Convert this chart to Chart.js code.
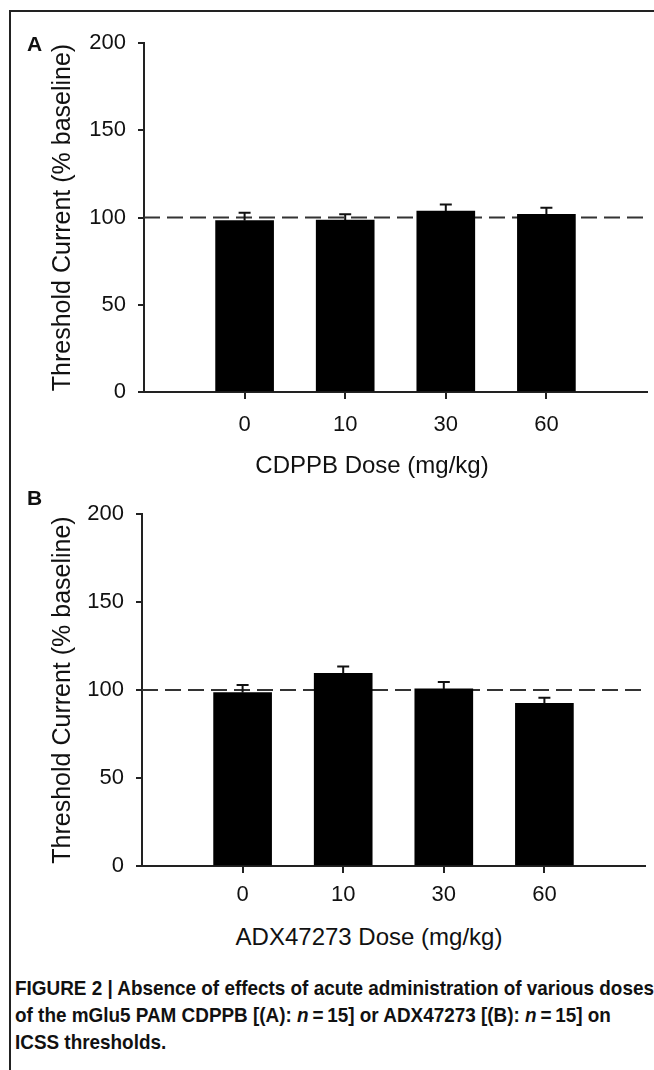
<!DOCTYPE html>
<html><head><meta charset="utf-8">
<script src="https://cdn.jsdelivr.net/npm/chart.js@4.4.0/dist/chart.umd.min.js"></script>
<style>
html,body{margin:0;padding:0;background:#fff;}
body{width:654px;height:1070px;position:relative;overflow:hidden;font-family:'Liberation Sans',Arial,sans-serif;}
#frame{position:absolute;left:9px;top:10px;width:660px;height:1080px;border-top:2px solid #222;border-left:2px solid #222;}
canvas{position:absolute;left:0;}
.lbl{position:absolute;font-weight:bold;font-size:21px;line-height:21px;color:#111;}
.xt{position:absolute;font-size:24px;line-height:24px;color:#111;white-space:nowrap;transform:translate(-50%,-50%);}
#cap{position:absolute;left:15px;top:974px;white-space:nowrap;font-family:'Liberation Sans',Arial,sans-serif;font-weight:bold;font-size:21px;line-height:27px;color:#111;transform:scaleX(0.9);transform-origin:0 0;}
</style></head><body>
<div id="frame"></div>
<canvas id="cA" width="654" height="440" style="top:0px"></canvas>
<canvas id="cB" width="654" height="450" style="top:460px"></canvas>
<div class="lbl" style="left:27px;top:33px">A</div>
<div class="lbl" style="left:27px;top:487px">B</div>
<div class="xt" style="left:372px;top:465px">CDPPB Dose (mg/kg)</div>
<div class="xt" style="left:369px;top:937px">ADX47273 Dose (mg/kg)</div>
<div id="cap">FIGURE 2 | Absence of effects of acute administration of various doses<br>of the mGlu5 PAM CDPPB [(A): <i>n</i>&#8201;=&#8201;15] or ADX47273 [(B): <i>n</i>&#8201;=&#8201;15] on<br>ICSS thresholds.</div>
<script>
const categories = ['0', '10', '30', '60'];
const cdppbMeans = [98.2, 98.5, 103.7, 101.8];
const cdppbSem = [4.5, 3.4, 3.8, 3.8];
const adxMeans = [98.5, 109.5, 100.6, 92.4];
const adxSem = [4.4, 3.8, 3.9, 3.2];
const yTicks = [0, 50, 100, 150, 200];
const baseline = 100;
const yTitle = 'Threshold Current (% baseline)';

Chart.defaults.font.family = "'Liberation Sans', Arial, sans-serif";

const errorBars = {
  id: 'errorBars',
  afterDraw(chart, args, opts) {
    const meta = chart.getDatasetMeta(0);
    const ys = chart.scales.y;
    const xs = chart.scales.x;
    const ctx = chart.ctx;
    const ds = chart.data.datasets[0].data;
    ctx.save();
    ctx.strokeStyle = '#111';
    ctx.lineWidth = 2;
    meta.data.forEach((el, i) => {
      const yt = ys.getPixelForValue(ds[i].y + opts.errors[i]);
      ctx.beginPath();
      ctx.moveTo(el.x, el.y);
      ctx.lineTo(el.x, yt);
      ctx.moveTo(el.x - 6, yt);
      ctx.lineTo(el.x + 6, yt);
      ctx.stroke();
    });
    // category tick marks below the x axis
    ctx.strokeStyle = '#222';
    ctx.lineWidth = 2;
    const axisY = chart.chartArea.bottom;
    ds.forEach(d => {
      const px = Math.round(xs.getPixelForValue(d.x));
      ctx.beginPath();
      ctx.moveTo(px, axisY);
      ctx.lineTo(px, axisY + 7);
      ctx.stroke();
    });
    ctx.restore();
  }
};

function makePanel(id, means, sems, L) {
  const xMax = categories.length + 1;
  return new Chart(document.getElementById(id), {
    type: 'bar',
    data: {
      datasets: [
        { type: 'bar', data: means.map((m, i) => ({ x: i + 1, y: m })), backgroundColor: '#000',
          borderWidth: 0, barThickness: 58, order: 1 },
        { type: 'line', data: [{ x: 0, y: baseline }, { x: xMax, y: baseline }], borderColor: '#333',
          borderWidth: 2, borderDash: [16, 7], pointRadius: 0, fill: false, order: 2 }
      ]
    },
    plugins: [errorBars],
    options: {
      responsive: false, animation: false, devicePixelRatio: 1,
      layout: { padding: { top: L.top, right: L.right, left: 0, bottom: 0 } },
      plugins: { legend: { display: false }, tooltip: { enabled: false }, errorBars: { errors: sems } },
      scales: {
        x: {
          type: 'linear', min: 0, max: xMax, offset: false,
          ticks: { stepSize: 1, autoSkip: false, maxRotation: 0, color: '#111', font: { size: 22 }, padding: L.xpad,
            callback: v => categories[v - 1] ?? '' },
          grid: { offset: false, drawOnChartArea: false, drawTicks: false },
          border: { color: '#222', width: 2 },
          afterFit: s => { s.height = L.xh; s.paddingLeft = 0; s.paddingRight = 0; }
        },
        y: {
          min: 0, max: 200,
          afterBuildTicks: s => { s.ticks = yTicks.map(v => ({ value: v })); },
          ticks: { color: '#111', font: { size: 22 }, padding: 12 },
          grid: { drawOnChartArea: false, tickLength: 6, lineWidth: 2, color: '#222' },
          border: { color: '#222', width: 2 },
          title: { display: true, text: yTitle, color: '#111', font: { size: 25 }, padding: { top: 48, bottom: 0 } },
          afterFit: s => { s.width = L.left; }
        }
      }
    }
  });
}

makePanel('cA', cdppbMeans, cdppbSem, { top: 43, right: 7, left: 144, xh: 48, xpad: 20 });
makePanel('cB', adxMeans, adxSem, { top: 54, right: 9, left: 142, xh: 44, xpad: 16 });
</script>
</body></html>
